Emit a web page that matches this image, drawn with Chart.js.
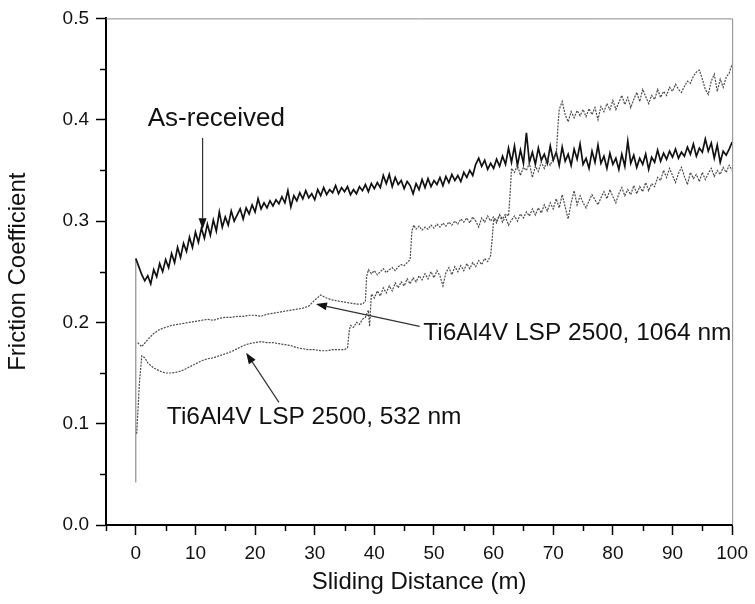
<!DOCTYPE html>
<html>
<head>
<meta charset="utf-8">
<script src="https://cdn.jsdelivr.net/npm/chart.js@4/dist/chart.umd.min.js"></script>
<style>
html,body{margin:0;padding:0;background:#fff;}
canvas{display:block;}
</style>
</head>
<body>
<canvas id="c" width="755" height="604"></canvas>
<script>
// ---- Data ----
const asReceivedX = [0,0,0.5,1,1.5,2,2.5,3,3.5,4,4.5,5,5.5,6,6.5,7,7.5,8,8.5,9,9.5,10,10.5,11,11.5,12,12.5,13,13.5,14,14.5,15,15.5,16,16.5,17,17.5,18,18.5,19,19.5,20,20.5,21,21.5,22,22.5,23,23.5,24,24.5,25,25.5,26,26.5,27,27.5,28,28.5,29,29.5,30,30.5,31,31.5,32,32.5,33,33.5,34,34.5,35,35.5,36,36.5,37,37.5,38,38.5,39,39.5,40,40.5,41,41.5,42,42.5,43,43.5,44,44.5,45,45.5,46,46.5,47,47.5,48,48.5,49,49.5,50,50.5,51,51.5,52,52.5,53,53.5,54,54.5,55,55.5,56,56.5,57,57.5,58,58.5,59,59.5,60,60.5,61,61.5,62,62.5,63,63.5,64,64.5,65,65.5,66,66.5,67,67.5,68,68.5,69,69.5,70,70.5,71,71.5,72,72.5,73,73.5,74,74.5,75,75.5,76,76.5,77,77.5,78,78.5,79,79.5,80,80.5,81,81.5,82,82.5,83,83.5,84,84.5,85,85.5,86,86.5,87,87.5,88,88.5,89,89.5,90,90.5,91,91.5,92,92.5,93,93.5,94,94.5,95,95.5,96,96.5,97,97.5,98,98.5,99,99.5,100];
const asReceivedY = [0.042,0.263,0.255,0.247,0.241,0.246,0.238,0.252,0.245,0.258,0.250,0.262,0.254,0.268,0.259,0.274,0.264,0.278,0.270,0.284,0.274,0.289,0.279,0.293,0.283,0.297,0.286,0.301,0.290,0.309,0.294,0.304,0.296,0.310,0.300,0.306,0.312,0.302,0.313,0.307,0.316,0.309,0.322,0.312,0.318,0.313,0.320,0.315,0.321,0.317,0.324,0.318,0.330,0.314,0.325,0.320,0.328,0.322,0.330,0.323,0.327,0.321,0.331,0.325,0.333,0.326,0.331,0.328,0.335,0.327,0.333,0.329,0.334,0.326,0.331,0.327,0.334,0.330,0.336,0.329,0.337,0.332,0.338,0.333,0.345,0.337,0.346,0.334,0.343,0.336,0.340,0.332,0.339,0.335,0.327,0.337,0.331,0.341,0.333,0.342,0.334,0.340,0.336,0.343,0.335,0.344,0.338,0.346,0.340,0.345,0.339,0.348,0.343,0.350,0.345,0.356,0.362,0.354,0.360,0.351,0.357,0.352,0.361,0.354,0.364,0.356,0.372,0.358,0.374,0.355,0.370,0.357,0.387,0.358,0.368,0.356,0.372,0.360,0.366,0.357,0.374,0.360,0.368,0.355,0.373,0.359,0.366,0.355,0.371,0.361,0.376,0.356,0.362,0.352,0.369,0.358,0.375,0.357,0.364,0.352,0.367,0.356,0.362,0.351,0.366,0.354,0.379,0.357,0.365,0.353,0.362,0.356,0.366,0.351,0.363,0.358,0.370,0.359,0.367,0.361,0.369,0.363,0.371,0.362,0.368,0.364,0.373,0.366,0.376,0.364,0.372,0.368,0.381,0.369,0.377,0.362,0.375,0.358,0.369,0.365,0.371,0.378];

const lsp1064X = [0.3,1,2,3,4,5,6,7,8,9,10,11,12,13,14,15,16,17,18,19,20,21,22,23,24,25,26,27,28,29,30,31,32,33,34,35,36,37,38,38.5,38.7,39,39.5,40,40.5,41,41.5,42,42.5,43,43.5,44,44.5,45,45.5,46,46.3,46.6,47,47.5,48,48.5,49,49.5,50,50.5,51,51.5,52,52.5,53,53.5,54,54.5,55,55.5,56,56.5,57,57.5,58,58.5,59,59.5,60,60.5,61,61.5,62,62.5,62.8,63,63.5,64,64.5,65,65.5,66,66.5,67,67.5,68,68.5,69,69.5,70,70.5,70.8,71,71.5,72,72.5,73,73.5,74,74.5,75,75.5,76,76.5,77,77.5,78,78.5,79,79.5,80,80.5,81,81.5,82,82.5,83,83.5,84,84.5,85,85.5,86,86.5,87,87.5,88,88.5,89,89.5,90,90.5,91,91.5,92,92.5,93,93.5,94,94.5,95,95.5,96,96.5,97,97.5,98,98.5,99,99.5,100];
const lsp1064Y = [0.180,0.176,0.183,0.189,0.193,0.195,0.197,0.198,0.199,0.200,0.201,0.202,0.203,0.202,0.204,0.205,0.205,0.206,0.206,0.207,0.207,0.206,0.208,0.209,0.210,0.211,0.212,0.213,0.214,0.216,0.222,0.227,0.224,0.222,0.221,0.220,0.219,0.218,0.218,0.221,0.245,0.252,0.248,0.251,0.247,0.250,0.253,0.249,0.252,0.254,0.251,0.255,0.257,0.256,0.259,0.262,0.290,0.296,0.292,0.295,0.291,0.294,0.292,0.296,0.293,0.297,0.294,0.298,0.295,0.299,0.296,0.300,0.297,0.302,0.299,0.303,0.298,0.304,0.300,0.294,0.303,0.299,0.305,0.300,0.304,0.300,0.306,0.302,0.307,0.305,0.330,0.352,0.348,0.355,0.345,0.353,0.350,0.357,0.343,0.354,0.349,0.358,0.352,0.361,0.355,0.362,0.365,0.395,0.410,0.418,0.405,0.398,0.408,0.402,0.409,0.404,0.410,0.403,0.411,0.405,0.412,0.400,0.413,0.408,0.416,0.410,0.419,0.410,0.417,0.424,0.415,0.422,0.412,0.420,0.427,0.418,0.430,0.423,0.416,0.424,0.420,0.430,0.422,0.428,0.424,0.432,0.428,0.435,0.430,0.427,0.433,0.438,0.436,0.443,0.447,0.449,0.440,0.430,0.425,0.438,0.445,0.428,0.440,0.432,0.442,0.446,0.455];

const lsp532X = [0.15,0.6,1,1.5,2,3,4,5,6,7,8,9,10,11,12,13,14,15,16,17,18,19,20,21,22,23,24,25,26,27,28,29,30,31,32,33,34,35,35.5,35.8,36,36.5,37,37.5,38,38.5,39,39.2,39.5,40,40.5,41,41.5,42,42.5,43,43.5,44,44.5,45,45.5,46,46.5,47,47.5,48,48.5,49,49.5,50,50.5,51,51.5,52,52.5,53,53.5,54,54.5,55,55.5,56,56.5,57,57.5,58,58.5,59,59.5,59.8,60,60.5,61,61.5,62,62.5,63,63.5,64,64.5,65,65.5,66,66.5,67,67.5,68,68.5,69,69.5,70,70.5,71,71.5,72,72.5,73,73.5,74,74.5,75,75.5,76,76.5,77,77.5,78,78.5,79,79.5,80,80.5,81,81.5,82,82.5,83,83.5,84,84.5,85,85.5,86,86.5,87,87.5,88,88.5,89,89.5,90,90.5,91,91.5,92,92.5,93,93.5,94,94.5,95,95.5,96,96.5,97,97.5,98,98.5,99,99.5,100];
const lsp532Y = [0.090,0.140,0.167,0.165,0.160,0.155,0.152,0.150,0.150,0.151,0.153,0.156,0.159,0.162,0.164,0.165,0.167,0.169,0.171,0.174,0.177,0.179,0.180,0.181,0.180,0.180,0.179,0.178,0.177,0.175,0.174,0.173,0.173,0.172,0.172,0.173,0.173,0.173,0.175,0.192,0.197,0.195,0.200,0.198,0.203,0.205,0.212,0.196,0.228,0.224,0.231,0.226,0.234,0.229,0.236,0.231,0.239,0.234,0.240,0.236,0.243,0.238,0.244,0.240,0.246,0.242,0.248,0.243,0.250,0.244,0.251,0.246,0.236,0.249,0.254,0.247,0.255,0.250,0.256,0.251,0.258,0.253,0.259,0.255,0.261,0.257,0.263,0.260,0.266,0.285,0.302,0.298,0.306,0.299,0.304,0.296,0.301,0.305,0.300,0.307,0.303,0.309,0.305,0.312,0.306,0.313,0.308,0.316,0.310,0.318,0.312,0.322,0.313,0.326,0.314,0.302,0.318,0.330,0.316,0.325,0.318,0.313,0.320,0.326,0.321,0.316,0.323,0.329,0.322,0.331,0.324,0.318,0.327,0.333,0.325,0.331,0.326,0.335,0.327,0.334,0.329,0.338,0.330,0.337,0.334,0.343,0.340,0.350,0.343,0.352,0.345,0.338,0.347,0.353,0.344,0.336,0.348,0.342,0.346,0.339,0.348,0.341,0.347,0.352,0.344,0.350,0.346,0.353,0.348,0.355,0.350];

const xTitle = 'Sliding Distance (m)';
const yTitle = 'Friction Coefficient';
const seriesNames = ['As-received', 'Ti6Al4V LSP 2500, 1064 nm', 'Ti6Al4V LSP 2500, 532 nm'];

function pts(xs, ys){ return xs.map((x,i)=>({x:x, y:ys[i]})); }
function isMajorX(v){ return Math.abs(v/10 - Math.round(v/10)) < 1e-6; }
function isMajorY(v){ return Math.abs(v*10 - Math.round(v*10)) < 1e-6; }

const FONT = "'Liberation Sans', Arial, sans-serif";

// annotation labels + arrows (data coordinates)
const notes = [
  {text: seriesNames[0], tx: 2.0, ty: 0.401, size: 26, ax1: 11.2, ay1: 0.382, ax2: 11.2, ay2: 0.292},
  {text: seriesNames[1], tx: 48.2, ty: 0.189, size: 24.5, ax1: 47.6, ay1: 0.196, ax2: 30.2, ay2: 0.218},
  {text: seriesNames[2], tx: 5.2, ty: 0.106, size: 24.5, ax1: 24.0, ay1: 0.121, ax2: 18.5, ay2: 0.170}
];

const decor = {
  id: 'decor',
  afterDraw(chart){
    const c = chart.ctx, a = chart.chartArea, xs = chart.scales.x, ys = chart.scales.y;
    c.save();
    // top & right frame
    c.strokeStyle = '#8a8a8a'; c.lineWidth = 1;
    c.beginPath();
    c.moveTo(a.left, a.top + 0.5); c.lineTo(a.right + 0.5, a.top + 0.5); c.lineTo(a.right + 0.5, a.bottom);
    c.stroke();
    // minor ticks
    c.strokeStyle = '#000'; c.lineWidth = 1.5;
    xs.ticks.forEach(t => {
      if (!isMajorX(t.value)) {
        const px = Math.round(xs.getPixelForValue(t.value)) + 0.5;
        c.beginPath(); c.moveTo(px, a.bottom); c.lineTo(px, a.bottom + 6); c.stroke();
      }
    });
    ys.ticks.forEach(t => {
      if (!isMajorY(t.value)) {
        const py = Math.round(ys.getPixelForValue(t.value)) + 0.5;
        c.beginPath(); c.moveTo(a.left, py); c.lineTo(a.left - 6, py); c.stroke();
      }
    });
    // annotations
    notes.forEach(n => {
      c.fillStyle = '#111';
      c.font = n.size + 'px ' + FONT;
      c.textBaseline = 'middle'; c.textAlign = 'left';
      c.fillText(n.text, xs.getPixelForValue(n.tx), ys.getPixelForValue(n.ty));
      const x1 = xs.getPixelForValue(n.ax1), y1 = ys.getPixelForValue(n.ay1);
      const x2 = xs.getPixelForValue(n.ax2), y2 = ys.getPixelForValue(n.ay2);
      const ang = Math.atan2(y2 - y1, x2 - x1);
      const hl = 11, hw = 4;
      c.strokeStyle = '#333'; c.lineWidth = 1.2;
      c.beginPath(); c.moveTo(x1, y1);
      c.lineTo(x2 - hl * Math.cos(ang), y2 - hl * Math.sin(ang)); c.stroke();
      c.fillStyle = '#111';
      c.beginPath();
      c.moveTo(x2, y2);
      c.lineTo(x2 - hl * Math.cos(ang) + hw * Math.sin(ang), y2 - hl * Math.sin(ang) - hw * Math.cos(ang));
      c.lineTo(x2 - hl * Math.cos(ang) - hw * Math.sin(ang), y2 - hl * Math.sin(ang) + hw * Math.cos(ang));
      c.closePath(); c.fill();
    });
    c.restore();
  }
};

new Chart(document.getElementById('c'), {
  type: 'scatter',
  data: {
    datasets: [
      {label: seriesNames[2], data: pts(lsp532X, lsp532Y), showLine: true, borderColor: '#4a4a4a', borderWidth: 1.2, borderDash: [2, 1.2], pointRadius: 0, tension: 0},
      {label: seriesNames[1], data: pts(lsp1064X, lsp1064Y), showLine: true, borderColor: '#4a4a4a', borderWidth: 1.2, borderDash: [2, 1.2], pointRadius: 0, tension: 0},
      {label: seriesNames[0], data: pts(asReceivedX, asReceivedY), showLine: true, borderColor: '#111', borderWidth: 1.7, pointRadius: 0, tension: 0,
       segment: {
         borderColor: ctx => ctx.p0DataIndex === 0 ? '#777' : undefined,
         borderWidth: ctx => ctx.p0DataIndex === 0 ? 1 : undefined
       }}
    ]
  },
  options: {
    responsive: false,
    animation: false,
    devicePixelRatio: 1,
    layout: {padding: {left: 0, top: 15, right: 19, bottom: 0}},
    plugins: {legend: {display: false}, tooltip: {enabled: false}},
    scales: {
      x: {
        type: 'linear', min: -5, max: 100,
        afterFit(s){ s.height = 79; },
        border: {display: true, color: '#000', width: 2},
        grid: {drawOnChartArea: false, drawTicks: true, tickLength: 10, tickWidth: 1.5,
               tickColor: ctx => (ctx.tick && isMajorX(ctx.tick.value)) ? '#000' : 'rgba(0,0,0,0)'},
        ticks: {stepSize: 5, autoSkip: false, maxRotation: 0, padding: 7, color: '#111',
                font: {family: FONT, size: 19},
                callback: v => isMajorX(v) ? String(Math.round(v)) : ''},
        title: {display: true, text: xTitle, color: '#111', font: {family: FONT, size: 24}, padding: {top: 0, bottom: 7}}
      },
      y: {
        type: 'linear', min: 0, max: 0.5,
        afterFit(s){ s.width = 106; },
        border: {display: true, color: '#000', width: 2},
        grid: {drawOnChartArea: false, drawTicks: true, tickLength: 10, tickWidth: 1.5,
               tickColor: ctx => (ctx.tick && isMajorY(ctx.tick.value)) ? '#000' : 'rgba(0,0,0,0)'},
        ticks: {stepSize: 0.05, autoSkip: false, padding: 7, color: '#111',
                font: {family: FONT, size: 19},
                callback: v => isMajorY(v) ? v.toFixed(1) : ''},
        title: {display: true, text: yTitle, color: '#111', font: {family: FONT, size: 24}, padding: {top: 4, bottom: 0}}
      }
    }
  },
  plugins: [decor]
});
</script>
</body>
</html>
